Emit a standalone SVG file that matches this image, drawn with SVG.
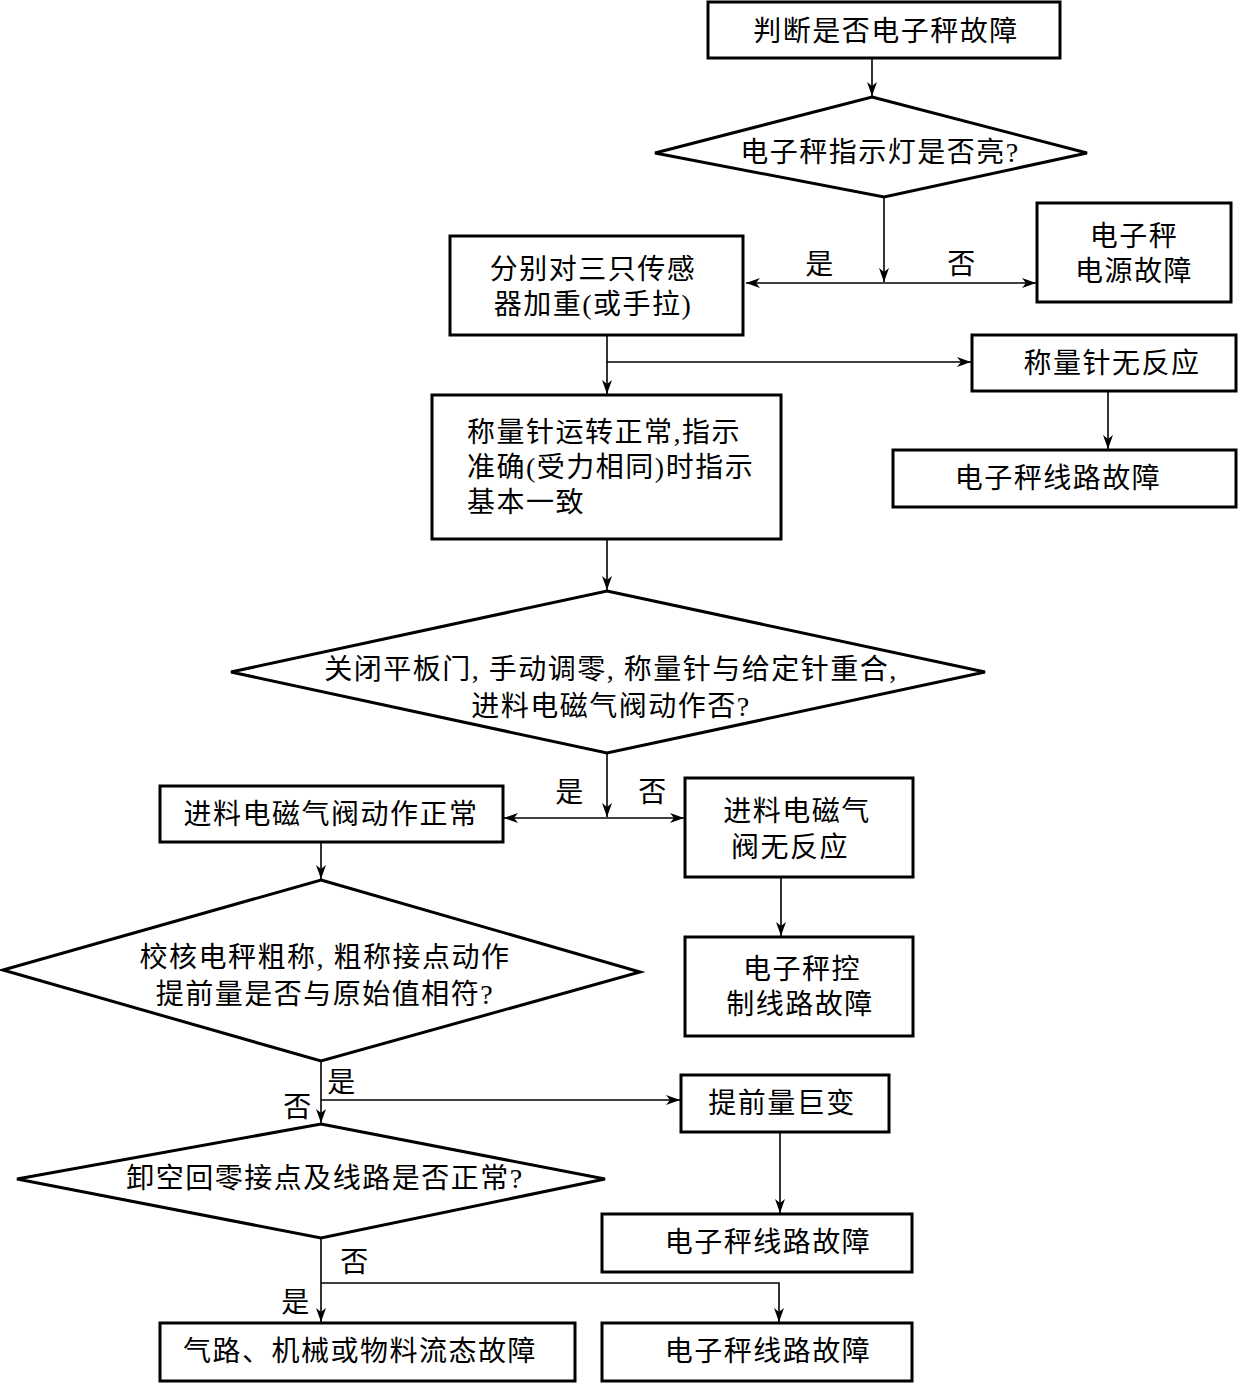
<svg xmlns="http://www.w3.org/2000/svg" width="1238" height="1383" viewBox="0 0 1238 1383">
<style>
.n{fill:#fff;stroke:#000;stroke-width:3}
.t{font-family:"Liberation Serif","Noto Sans CJK SC",serif;font-size:28px;letter-spacing:1.5px;fill:#000;dominant-baseline:central;text-anchor:middle}
.l{text-anchor:start}
.c{fill:none;stroke:#000;stroke-width:1.6}
</style>
<defs>
<marker id="a" markerUnits="userSpaceOnUse" markerWidth="16" markerHeight="10" refX="14" refY="5" orient="auto-start-reverse">
<path d="M0,0 L14,5 L0,10 L4,5 Z" fill="#000"/>
</marker>
</defs>
<rect width="1238" height="1383" fill="#fff"/>
<g id="connectors">
<path class="c" d="M872,58 V96" marker-end="url(#a)"/>
<path class="c" d="M884,197 V282" marker-end="url(#a)"/>
<path class="c" d="M746,283 H1036" marker-start="url(#a)" marker-end="url(#a)"/>
<path class="c" d="M607,335 V394" marker-end="url(#a)"/>
<path class="c" d="M607,362 H971" marker-end="url(#a)"/>
<path class="c" d="M1108,391 V449" marker-end="url(#a)"/>
<path class="c" d="M607,539 V590" marker-end="url(#a)"/>
<path class="c" d="M607,753 V817" marker-end="url(#a)"/>
<path class="c" d="M504,818 H684" marker-start="url(#a)" marker-end="url(#a)"/>
<path class="c" d="M781,877 V936" marker-end="url(#a)"/>
<path class="c" d="M321,842 V879" marker-end="url(#a)"/>
<path class="c" d="M321,1061 V1123" marker-end="url(#a)"/>
<path class="c" d="M321,1100 H680" marker-end="url(#a)"/>
<path class="c" d="M780,1132 V1213" marker-end="url(#a)"/>
<path class="c" d="M321,1238 V1322" marker-end="url(#a)"/>
<path class="c" d="M321,1283 H779 V1322" marker-end="url(#a)"/>
<text class="t" x="820" y="264">是</text>
<text class="t" x="962" y="264">否</text>
<text class="t" x="570" y="792">是</text>
<text class="t" x="653" y="792">否</text>
<text class="t" x="342" y="1082">是</text>
<text class="t" x="298" y="1107">否</text>
<text class="t" x="355" y="1262">否</text>
<text class="t" x="296" y="1302">是</text>
</g>
<g id="n1"><rect class="n" x="708" y="2" width="352" height="56"/><text class="t" x="886" y="31">判断是否电子秤故障</text></g>
<g id="d1"><polygon class="n" points="872,97 1087,153 884,197 655,153"/><text class="t" x="880" y="152">电子秤指示灯是否亮?</text></g>
<g id="n2"><rect class="n" x="450" y="236" width="293" height="99"/><text class="t" x="593" y="269">分别对三只传感</text><text class="t" x="593" y="304">器加重(或手拉)</text></g>
<g id="n3"><rect class="n" x="1037" y="203" width="194" height="99"/><text class="t" x="1134" y="236">电子秤</text><text class="t" x="1134" y="271">电源故障</text></g>
<g id="n4"><rect class="n" x="972" y="335" width="264" height="56"/><text class="t" x="1112" y="363">称量针无反应</text></g>
<g id="n5"><rect class="n" x="893" y="450" width="343" height="57"/><text class="t" x="1058" y="478">电子秤线路故障</text></g>
<g id="n6"><rect class="n" x="432" y="395" width="349" height="144"/><text class="t l" x="467" y="432">称量针运转正常,指示</text><text class="t l" x="467" y="467">准确(受力相同)时指示</text><text class="t l" x="467" y="502">基本一致</text></g>
<g id="d2"><polygon class="n" points="607,591 985,672 607,753 231,672"/><text class="t" x="611" y="669">关闭平板门, 手动调零, 称量针与给定针重合,</text><text class="t" x="611" y="706">进料电磁气阀动作否?</text></g>
<g id="n7"><rect class="n" x="160" y="786" width="343" height="56"/><text class="t" x="331" y="814">进料电磁气阀动作正常</text></g>
<g id="n8"><rect class="n" x="685" y="778" width="228" height="99"/><text class="t" x="797" y="811">进料电磁气</text><text class="t" x="790" y="847">阀无反应</text></g>
<g id="n9"><rect class="n" x="685" y="937" width="228" height="99"/><text class="t" x="802" y="969">电子秤控</text><text class="t" x="800" y="1004">制线路故障</text></g>
<g id="d3"><polygon class="n" points="321,880 640,972 321,1061 3,970"/><text class="t" x="325" y="957">校核电秤粗称, 粗称接点动作</text><text class="t" x="325" y="994">提前量是否与原始值相符?</text></g>
<g id="n10"><rect class="n" x="681" y="1075" width="208" height="57"/><text class="t" x="782" y="1103">提前量巨变</text></g>
<g id="n11"><rect class="n" x="602" y="1214" width="310" height="58"/><text class="t" x="768" y="1242">电子秤线路故障</text></g>
<g id="d4"><polygon class="n" points="321,1124 605,1179 321,1238 17,1179"/><text class="t" x="325" y="1178">卸空回零接点及线路是否正常?</text></g>
<g id="n12"><rect class="n" x="160" y="1323" width="415" height="58"/><text class="t" x="360" y="1351">气路、机械或物料流态故障</text></g>
<g id="n13"><rect class="n" x="602" y="1323" width="310" height="58"/><text class="t" x="768" y="1351">电子秤线路故障</text></g>
</svg>
